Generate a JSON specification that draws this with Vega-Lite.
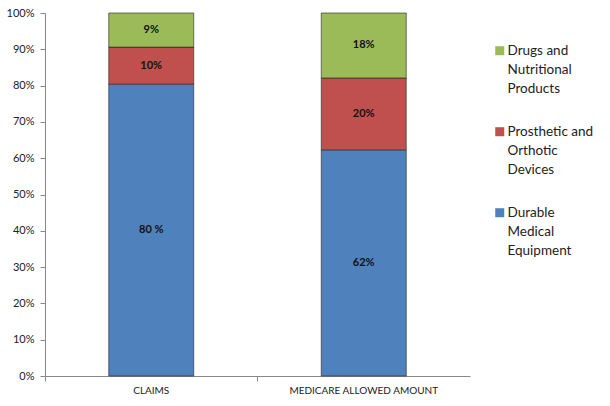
{
  "$schema": "https://vega.github.io/schema/vega-lite/v6.json",
  "width": 425,
  "height": 363,
  "autosize": "none",
  "padding": {"left": 45, "top": 13, "right": 140, "bottom": 30},
  "background": "white",
  "config": {
    "view": {"stroke": null},
    "font": "Lato",
    "style": {"guide-label": {"lineHeight": 19}}
  },
  "data": {
    "values": [
      {"category": "CLAIMS", "type": "Durable Medical Equipment", "ord": 1, "value": 0.804, "label": "80 %"},
      {"category": "CLAIMS", "type": "Prosthetic and Orthotic Devices", "ord": 2, "value": 0.102, "label": "10%"},
      {"category": "CLAIMS", "type": "Drugs and Nutritional Products", "ord": 3, "value": 0.094, "label": "9%"},
      {"category": "MEDICARE ALLOWED AMOUNT", "type": "Durable Medical Equipment", "ord": 1, "value": 0.623, "label": "62%"},
      {"category": "MEDICARE ALLOWED AMOUNT", "type": "Prosthetic and Orthotic Devices", "ord": 2, "value": 0.198, "label": "20%"},
      {"category": "MEDICARE ALLOWED AMOUNT", "type": "Drugs and Nutritional Products", "ord": 3, "value": 0.179, "label": "18%"}
    ]
  },
  "encoding": {
    "x": {
      "field": "category",
      "type": "nominal",
      "sort": null,
      "scale": {"paddingInner": 0.6, "paddingOuter": 0.3},
      "axis": {
        "title": null,
        "labelAngle": 0,
        "labelFontSize": 10,
        "labelColor": "#222",
        "labelPadding": 4,
        "domainColor": "#888",
        "bandPosition": -0.75,
        "tickColor": "#888",
        "tickSize": 5
      }
    },
    "y": {
      "field": "value",
      "type": "quantitative",
      "stack": "zero",
      "scale": {"domain": [0, 1], "nice": false},
      "axis": {
        "title": null,
        "format": ".0%",
        "values": [0, 0.1, 0.2, 0.3, 0.4, 0.5, 0.6, 0.7, 0.8, 0.9, 1],
        "grid": false,
        "labelFontSize": 11,
        "labelColor": "#222",
        "labelPadding": 6,
        "domainColor": "#888",
        "tickColor": "#888",
        "tickSize": 5
      }
    },
    "order": {"field": "ord", "type": "quantitative"}
  },
  "layer": [
    {
      "mark": {"type": "bar", "stroke": "#222", "strokeWidth": 0.6},
      "encoding": {
        "color": {
          "field": "type",
          "type": "nominal",
          "scale": {
            "domain": ["Drugs and Nutritional Products", "Prosthetic and Orthotic Devices", "Durable Medical Equipment"],
            "range": ["#9BBB59", "#C0504D", "#4F81BD"]
          },
          "legend": {
            "title": null,
            "orient": "none",
            "legendX": 448,
            "legendY": 24,
            "symbolType": "M-1,0.55H1V2.55H-1Z",
            "symbolSize": 81,
            "symbolStrokeWidth": 0,
            "labelFontSize": 13.5,
            "labelColor": "#222",
            "labelLimit": 200,
            "labelBaseline": "top",
            "labelOffset": 1,
            "rowPadding": 22,
            "labelExpr": "datum.label == 'Drugs and Nutritional Products' ? ['Drugs and', 'Nutritional', 'Products'] : datum.label == 'Prosthetic and Orthotic Devices' ? ['Prosthetic and', 'Orthotic', 'Devices'] : ['Durable', 'Medical', 'Equipment']"
          }
        }
      }
    },
    {
      "mark": {"type": "text", "fontWeight": "bold", "fontSize": 11, "color": "#111"},
      "encoding": {
        "y": {"field": "value", "type": "quantitative", "stack": "zero", "bandPosition": 0.5},
        "text": {"field": "label"}
      }
    }
  ]
}
